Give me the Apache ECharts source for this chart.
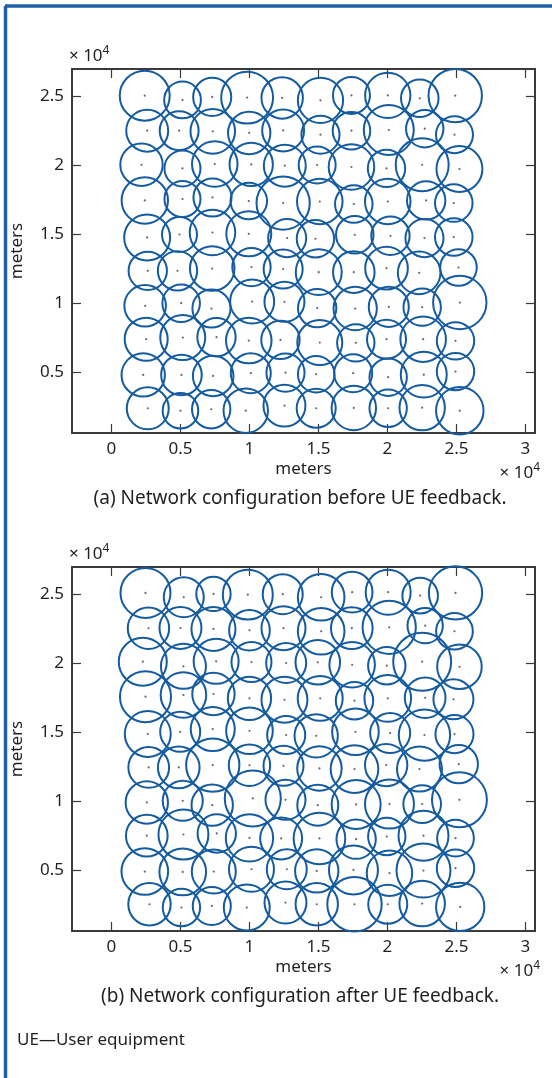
<!DOCTYPE html>
<html>
<head>
<meta charset="utf-8">
<script src="https://cdn.jsdelivr.net/npm/echarts@6/dist/echarts.min.js"></script>
<style>
  html, body { margin: 0; padding: 0; background: #fff; }
  #chart { width: 552px; height: 1078px; }
</style>
</head>
<body>
<div id="chart"></div>
<script>
// cell centres (meters) and coverage radius, rows top -> bottom
const beforeX = [
  2410, 5150, 7300, 9830, 12370, 15145, 17390, 20020, 22340, 24910,
  2590, 4905, 7340, 9980, 12440, 15145, 17390, 20095, 22700, 24855,
  2175, 5145, 7485, 10125, 12560, 14905, 17390, 19930, 22515, 25215,
  2415, 5145, 7320, 9950, 12440, 15095, 17560, 20020, 22805, 24805,
  2585, 4930, 7320, 9950, 12730, 14780, 17630, 20215, 22680, 24805,
  2630, 4785, 7300, 10145, 12440, 15020, 17560, 19930, 22295, 25145,
  2440, 5050, 7245, 10195, 12535, 14905, 17660, 20095, 22515, 25240,
  2515, 5165, 7610, 9950, 12245, 15095, 17705, 19930, 22585, 24930,
  2300, 5070, 7370, 10095, 12610, 14835, 17515, 20050, 22630, 24930,
  2630, 5000, 7225, 9730, 12535, 14835, 17560, 20050, 22515, 25240
];
const beforeY = [
  25020, 24710, 24930, 24880, 24855, 24680, 25040, 25040, 24830, 25020,
  22485, 22485, 22435, 22320, 22500, 22195, 22485, 22535, 22630, 22195,
  20020, 19755, 20070, 20045, 19950, 20000, 19855, 19755, 20020, 19710,
  17435, 17535, 17650, 17390, 17245, 17360, 17175, 17360, 17435, 17245,
  14755, 14970, 15115, 15020, 14710, 14660, 14950, 14875, 14710, 14785,
  12340, 12340, 12505, 12610, 12465, 12245, 12245, 12535, 12195, 12580,
  9805, 10000, 9610, 10115, 10095, 9640, 9610, 9730, 9710, 10045,
  7390, 7505, 7535, 7290, 7340, 7145, 7125, 7390, 7390, 7270,
  4805, 4805, 4730, 4930, 4970, 4855, 4930, 4640, 4825, 5045,
  2390, 2215, 2320, 2215, 2580, 2390, 2415, 2390, 2435, 2215
];
const beforeR = [
  1810, 1330, 1380, 1880, 1500, 1640, 1340, 1640, 1360, 1935,
  1520, 1410, 1615, 1535, 1520, 1380, 1360, 1810, 1355, 1340,
  1535, 1305, 1650, 1570, 1520, 1340, 1650, 1355, 1920, 1665,
  1680, 1305, 1380, 1325, 1930, 1650, 1360, 1650, 1390, 1360,
  1665, 1270, 1650, 1630, 1380, 1355, 1360, 1390, 1380, 1360,
  1390, 1425, 1615, 1390, 1415, 1665, 1505, 1545, 1545, 1325,
  1505, 1360, 1380, 1595, 1450, 1390, 1570, 1450, 1355, 1935,
  1560, 1630, 1390, 1650, 1390, 1630, 1355, 1415, 1650, 1355,
  1570, 1470, 1470, 1450, 1380, 1325, 1380, 1355, 1665, 1355,
  1520, 1290, 1390, 1610, 1520, 1415, 1610, 1355, 1645, 1720
];

const afterX = [
  2465, 5240, 7390, 9880, 12410, 15195, 17440, 20050, 22370, 24930,
  2680, 5000, 7390, 10000, 12465, 15195, 17415, 20125, 22730, 24855,
  2270, 5215, 7585, 10145, 12660, 14950, 17440, 19950, 22515, 25215,
  2465, 5215, 7390, 10000, 12535, 15125, 17610, 20020, 22730, 24780,
  2630, 4980, 7340, 10000, 12660, 14835, 17680, 20195, 22680, 24855,
  2700, 4875, 7340, 10000, 12465, 15070, 17610, 19905, 22320, 25165,
  2560, 5165, 7300, 10240, 12610, 14950, 17730, 20145, 22515, 25215,
  2560, 5215, 7630, 10000, 12295, 15070, 17730, 19950, 22610, 24930,
  2415, 5165, 7415, 10145, 12705, 14875, 17535, 20145, 22610, 24930,
  2755, 5070, 7270, 9805, 12610, 14875, 17610, 20020, 22515, 25270
];
const afterY = [
  25070, 24760, 25000, 24950, 24980, 24760, 25125, 25125, 24875, 25070,
  22515, 22535, 22465, 22370, 22520, 22300, 22520, 22585, 22705, 22300,
  20095, 19760, 20125, 20070, 20000, 20050, 19875, 19805, 20095, 19730,
  17560, 17680, 17755, 17440, 17340, 17440, 17270, 17440, 17485, 17370,
  14855, 15020, 15215, 15095, 14785, 14730, 15020, 14930, 14785, 14855,
  12440, 12440, 12610, 12600, 12560, 12370, 12320, 12610, 12320, 12680,
  9905, 10025, 9710, 10195, 10095, 9710, 9760, 9785, 9785, 10095,
  7500, 7585, 7660, 7340, 7300, 7300, 7245, 7440, 7500, 7320,
  4905, 4875, 4905, 5070, 5070, 4950, 5020, 4785, 4975, 5145,
  2535, 2300, 2415, 2300, 2660, 2535, 2535, 2535, 2585, 2340
];
const afterR = [
  1810, 1450, 1245, 1810, 1450, 1690, 1475, 1630, 1290, 1930,
  1500, 1520, 1595, 1475, 1595, 1690, 1510, 1930, 1280, 1330,
  1740, 1630, 1630, 1450, 1450, 1615, 1650, 1355, 2100, 1615,
  1850, 1650, 1535, 1570, 1665, 1630, 1355, 1690, 1475, 1450,
  1665, 1450, 1595, 1690, 1380, 1570, 1690, 1450, 1860, 1380,
  1475, 1510, 1930, 1500, 1450, 1610, 1725, 1535, 1630, 1390,
  1535, 1450, 1500, 2030, 1450, 1485, 1775, 1775, 1365, 1990,
  1510, 1810, 1390, 1715, 1520, 1870, 1425, 1355, 1810, 1330,
  1690, 1690, 1595, 1630, 1450, 1570, 1775, 1645, 1955, 1355,
  1535, 1355, 1380, 1665, 1520, 1535, 1970, 1415, 1650, 1750
];

const xTicks = [0, 5000, 10000, 15000, 20000, 25000, 30000];
const yTicks = [5000, 10000, 15000, 20000, 25000];
const captions = ['(a) Network configuration before UE feedback.', '(b) Network configuration after UE feedback.'];

const FONT = '"Noto Sans", "Open Sans", sans-serif';
const TEXT = '#231f20';
const AXIS = '#3a3a3a';
const BLUE = '#155ba0';
const X_MIN = -2860, X_MAX = 30690;
const Y_MIN = 600, Y_MAX = 26950;
const gridTops = [69, 567];

const chart = echarts.init(document.getElementById('chart'));

function fmt(v) { return String(v / 10000); }

const xAxis = [], yAxis = [], series = [], grid = [], graphic = [];
const tenFour = {
  m: { fontSize: 17, fontFamily: FONT, fill: TEXT, lineHeight: 20, verticalAlign: 'bottom' },
  s: { fontSize: 12, fontFamily: FONT, fill: TEXT, lineHeight: 20, verticalAlign: 'top' }
};

[[beforeX, beforeY, beforeR], [afterX, afterY, afterR]].forEach(function (p, i) {
  grid.push({ left: 72, top: gridTops[i], width: 463, height: 364, outerBoundsMode: 'none', containLabel: false });
  const common = {
    gridIndex: i, type: 'value',
    axisLine: { show: true, onZero: false, lineStyle: { color: AXIS, width: 2 } },
    splitLine: { show: false }
  };
  const tick = function (vals) {
    return { inside: true, length: 9, customValues: vals, lineStyle: { color: AXIS, width: 1.2 } };
  };
  xAxis.push(Object.assign({}, common, {
    position: 'bottom', min: X_MIN, max: X_MAX,
    axisTick: tick(xTicks),
    axisLabel: { customValues: xTicks, formatter: fmt, color: TEXT, fontSize: 17, fontFamily: FONT, margin: 8 },
    name: 'meters', nameLocation: 'middle', nameGap: 28,
    nameTextStyle: { color: TEXT, fontSize: 17, fontFamily: FONT }
  }));
  xAxis.push(Object.assign({}, common, {
    position: 'top', min: X_MIN, max: X_MAX,
    axisTick: tick(xTicks),
    axisLabel: { show: false }
  }));
  yAxis.push(Object.assign({}, common, {
    position: 'left', min: Y_MIN, max: Y_MAX,
    axisTick: tick(yTicks),
    axisLabel: { customValues: yTicks, formatter: fmt, color: TEXT, fontSize: 17, fontFamily: FONT, margin: 8 },
    name: 'meters', nameLocation: 'middle', nameGap: 46,
    nameTextStyle: { color: TEXT, fontSize: 17, fontFamily: FONT }
  }));
  yAxis.push(Object.assign({}, common, {
    position: 'right', min: Y_MIN, max: Y_MAX,
    axisTick: tick(yTicks),
    axisLabel: { show: false }
  }));

  const cells = p[0].map(function (x, k) { return [x, p[1][k], p[2][k]]; });
  series.push({
    type: 'custom', xAxisIndex: i * 2, yAxisIndex: i * 2,
    clip: false, silent: true,
    encode: { x: 0, y: 1 },
    data: cells,
    renderItem: function (params, api) {
      const c = api.coord([api.value(0), api.value(1)]);
      const r = api.size([api.value(2), 0])[0];
      return {
        type: 'circle',
        shape: { cx: c[0], cy: c[1], r: r },
        style: { fill: 'none', stroke: BLUE, lineWidth: 2 }
      };
    }
  });
  series.push({
    type: 'scatter', xAxisIndex: i * 2, yAxisIndex: i * 2,
    symbol: 'circle', symbolSize: 2.2, silent: true,
    itemStyle: { color: '#444' },
    data: cells.map(function (c) { return [c[0], c[1]]; })
  });

  const top = gridTops[i];
  // x 10^4 multiplier labels
  graphic.push({
    type: 'text', x: 69, y: top - 14,
    style: { text: '{m|× 10}{s|4}', verticalAlign: 'middle', align: 'left', rich: tenFour }
  });
  graphic.push({
    type: 'text', x: 540, y: top + 403,
    style: { text: '{m|× 10}{s|4}', verticalAlign: 'middle', align: 'right', rich: tenFour }
  });
  graphic.push({
    type: 'text', x: 300, y: top + 430,
    style: { text: captions[i], font: '19px ' + FONT, fill: TEXT, align: 'center', verticalAlign: 'middle' }
  });
});

graphic.push({
  type: 'text', x: 17, y: 1040,
  style: { text: 'UE—User equipment', font: '17px ' + FONT, fill: TEXT, align: 'left', verticalAlign: 'middle' }
});
// page frame
graphic.push({ type: 'line', shape: { x1: 5, y1: 6, x2: 552, y2: 6 }, style: { stroke: '#1f5fa6', lineWidth: 3.5 } });
graphic.push({ type: 'line', shape: { x1: 5.5, y1: 6, x2: 5.5, y2: 1078 }, style: { stroke: '#1f5fa6', lineWidth: 3.5 } });

chart.setOption({
  animation: false,
  backgroundColor: '#fff',
  grid: grid,
  xAxis: xAxis,
  yAxis: yAxis,
  series: series,
  graphic: graphic
});
</script>
</body>
</html>
